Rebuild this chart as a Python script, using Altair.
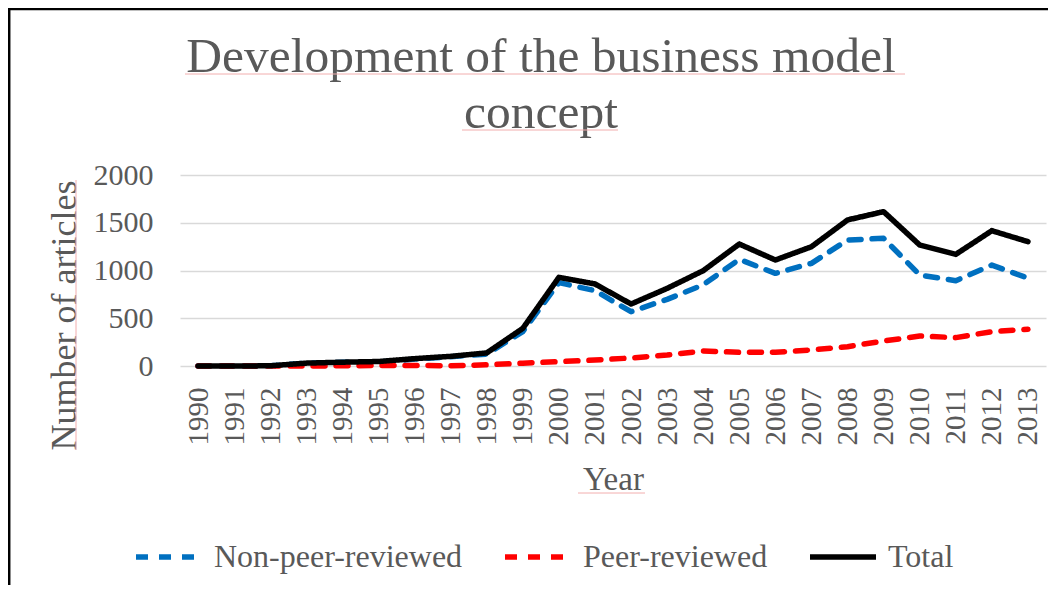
import altair as alt
import pandas as pd

years = [str(y) for y in range(1990, 2014)]
non_peer = [0, 0, 2, 30, 38, 42, 72, 98, 125, 360, 873, 789, 569, 698, 850,
            1117, 970, 1075, 1319, 1337, 953, 893, 1057, 920]
peer = [0, 0, 0, 0, 2, 5, 5, 3, 12, 30, 45, 63, 84, 115, 157,
        143, 143, 168, 202, 262, 314, 297, 360, 384]
total = [0, 0, 2, 30, 40, 47, 77, 101, 137, 394, 928, 859, 649, 813, 998,
         1277, 1110, 1249, 1529, 1616, 1267, 1169, 1417, 1302]

series_names = ["Non-peer-reviewed", "Peer-reviewed", "Total"]
series_colors = ["#0070C0", "#FF0000", "#000000"]
series_dash = [[12, 11], [12, 11], [1, 0]]
y_ticks = [0, 500, 1000, 1500, 2000]

title_lines = ["Development of the business model", "concept"]

rows = []
for name, vals in zip(series_names, [non_peer, peer, total]):
    for yr, v in zip(years, vals):
        rows.append({"Year": yr, "Series": name, "Value": v})
df = pd.DataFrame(rows)

FONT = "Liberation Serif"
GREY = "#595959"

legend_common = dict(
    title=None, orient="none", direction="horizontal",
    legendX=-47, legendY=346,
    symbolType="stroke", symbolSize=4356, symbolStrokeWidth=5.5,
    labelFont=FONT, labelFontSize=32, labelColor=GREY, labelLimit=0,
    labelOffset=9, columnPadding=31,
)

color_enc = alt.Color(
    "Series:N",
    scale=alt.Scale(domain=series_names, range=series_colors),
    legend=alt.Legend(**legend_common),
)
dash_enc = alt.StrokeDash(
    "Series:N",
    scale=alt.Scale(domain=series_names, range=series_dash),
    legend=alt.Legend(**legend_common),
)

x_enc = alt.X(
    "Year:O",
    scale=alt.Scale(type="point", padding=0.5),
    axis=alt.Axis(
        title="Year", labelAngle=-90, labelFont=FONT, labelFontSize=29,
        labelColor=GREY, labelPadding=21, ticks=False, domain=False,
        grid=False,
        titleFont=FONT, titleFontSize=33, titleColor=GREY,
        titleFontWeight="normal", titleBaseline="alphabetic", titleY=123,
    ),
)
y_enc = alt.Y(
    "Value:Q",
    scale=alt.Scale(domain=[0, 2000], nice=False),
    axis=alt.Axis(
        title="Number of articles", values=y_ticks, format="d",
        labelFont=FONT, labelFontSize=30, labelColor=GREY, labelPadding=27,
        ticks=False, domain=False, gridColor="#D9D9D9", gridWidth=1.5,
        titleFont=FONT, titleFontSize=36, titleColor=GREY,
        titleFontWeight="normal", titleBaseline="alphabetic",
        titleAlign="center", titleX=-105, titleY=140, titleAngle=-90,
    ),
)

def series_layer(name):
    return (
        alt.Chart(df)
        .transform_filter(alt.datum.Series == name)
        .mark_line(strokeWidth=5.5, strokeCap="round", strokeJoin="round")
        .encode(x=x_enc, y=y_enc, color=color_enc, strokeDash=dash_enc)
    )

layers = [series_layer(n) for n in series_names]

one = alt.Data(values=[{"t": "\n".join(title_lines)}])
title_mark = alt.Chart(one).mark_text(
    font=FONT, fontSize=49.5, color=GREY, align="center",
    baseline="alphabetic", lineBreak="\n", lineHeight=56,
).encode(text="t:N", x=alt.value(361), y=alt.value(-103))

frame_color = "#000000"
frame_left = alt.Chart(one).mark_rule(color=frame_color, strokeWidth=2.5).encode(
    x=alt.value(-170.8), y=alt.value(-167), y2=alt.value(420))
frame_top = alt.Chart(one).mark_rule(color=frame_color, strokeWidth=2.5).encode(
    x=alt.value(-172), x2=alt.value(880), y=alt.value(-166))

pink = "#F2AEAE"
sq1 = alt.Chart(one).mark_rule(color=pink, strokeWidth=1).encode(
    x=alt.value(5), x2=alt.value(725), y=alt.value(-101))
sq2 = alt.Chart(one).mark_rule(color=pink, strokeWidth=1).encode(
    x=alt.value(282), x2=alt.value(438), y=alt.value(-45))
sq3 = alt.Chart(one).mark_rule(color=pink, strokeWidth=1).encode(
    x=alt.value(398), x2=alt.value(465), y=alt.value(318))
sq4 = alt.Chart(one).mark_rule(color=pink, strokeWidth=1).encode(
    x=alt.value(-104), y=alt.value(5), y2=alt.value(275))

chart = alt.layer(
    *layers, title_mark, frame_left, frame_top, sq1, sq2, sq3, sq4
).resolve_scale(color="shared", strokeDash="shared").properties(
    width=866, height=191,
    padding={"left": 172, "top": 167, "right": 2, "bottom": 219},
    autosize=alt.AutoSizeParams(type="none"),
    background="white",
    view=alt.ViewBackground(stroke="transparent", strokeWidth=0),
).configure_view(stroke="transparent", strokeWidth=0)

chart.save("out.html", embed_options={"renderer": "svg", "actions": False})
